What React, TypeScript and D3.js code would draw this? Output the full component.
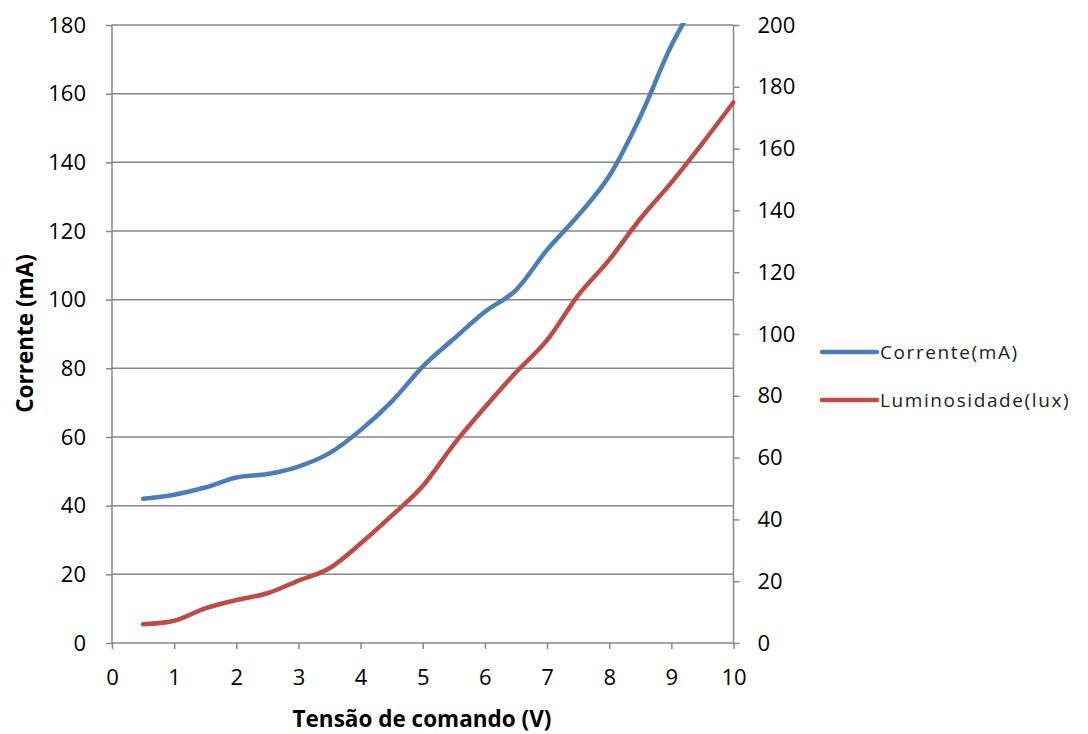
import { useEffect, useRef } from "react";
import * as d3 from "d3";

const voltage = [0.5, 1, 1.5, 2, 2.5, 3, 3.5, 4, 4.5, 5, 5.5, 6, 6.5, 7, 7.5, 8, 8.5, 9, 9.5, 10];
const corrente = [42, 43.2, 45.3, 48.2, 49.2, 51.4, 55.3, 62, 70.3, 80.5, 88.6, 96.5, 102.8, 114.5, 124.5, 136, 153.3, 174, 190, 205];
const luminosidade = [6.1, 7.2, 11.2, 13.9, 16.1, 20.2, 24.2, 32.2, 41.2, 50.8, 64.3, 76.3, 87.6, 98, 112.5, 124, 137.3, 149, 161.7, 175];

const xTicks = [0, 1, 2, 3, 4, 5, 6, 7, 8, 9, 10];
const leftTicks = [0, 20, 40, 60, 80, 100, 120, 140, 160, 180];
const rightTicks = [0, 20, 40, 60, 80, 100, 120, 140, 160, 180, 200];

const seriesNames = ["Corrente(mA)", "Luminosidade(lux)"];
const seriesColors = ["#4A7EBB", "#BE4B48"];

export default function App() {
    const svgRef = useRef<SVGSVGElement>(null);

    useEffect(() => {
        const width = 1088;
        const height = 734;
        const left = 112;
        const right = 733.5;
        const top = 25;
        const bottom = 643;
        const font = "'Open Sans', Lato, sans-serif";
        const grid = "#878787";

        const svg = d3.select(svgRef.current);
        svg.selectAll("*").remove();
        svg.attr("width", width).attr("height", height);

        const x = d3.scaleLinear().domain([0, 10]).range([left, right]);
        const yL = d3.scaleLinear().domain([0, 180]).range([bottom, top]);
        const yR = d3.scaleLinear().domain([0, 200]).range([bottom, top]);

        // Gridlines
        svg.append("g")
            .selectAll("line")
            .data(leftTicks.slice(1))
            .enter()
            .append("line")
            .attr("x1", left)
            .attr("x2", right)
            .attr("y1", d => yL(d))
            .attr("y2", d => yL(d))
            .attr("stroke", grid)
            .attr("stroke-width", 1.5);

        // Left axis
        const gl = svg.append("g")
            .attr("transform", `translate(${left},0)`)
            .call(d3.axisLeft(yL).tickValues(leftTicks).tickSize(6).tickPadding(20));

        // Right axis
        const gr = svg.append("g")
            .attr("transform", `translate(${right},0)`)
            .call(d3.axisRight(yR).tickValues(rightTicks).tickSize(6).tickPadding(18));

        // Bottom axis
        const gb = svg.append("g")
            .attr("transform", `translate(0,${bottom})`)
            .call(d3.axisBottom(x).tickValues(xTicks).tickFormat(d3.format("d")).tickSize(6).tickPadding(20));

        [gl, gr, gb].forEach(g => {
            g.selectAll("text").attr("font-size", "22px").attr("font-family", font).attr("fill", "#000");
            g.select(".domain").attr("stroke", grid).attr("stroke-width", 1.5);
            g.selectAll(".tick line").attr("stroke", grid).attr("stroke-width", 1.5);
        });
        gl.select(".domain").attr("d", `M0,${bottom}V${top}`);
        gr.select(".domain").attr("d", `M0,${bottom}V${top}`);
        gb.select(".domain").attr("d", `M${left},0H${right}`);

        // Clip
        svg.append("clipPath")
            .attr("id", "plot-clip")
            .append("rect")
            .attr("x", left)
            .attr("y", top - 2)
            .attr("width", right - left + 2)
            .attr("height", bottom - top + 4);

        const lineL = d3.line<number>()
            .x((_, i) => x(voltage[i]))
            .y(d => yL(d))
            .curve(d3.curveCatmullRom.alpha(0));
        const lineR = d3.line<number>()
            .x((_, i) => x(voltage[i]))
            .y(d => yR(d))
            .curve(d3.curveCatmullRom.alpha(0));

        const plot = svg.append("g").attr("clip-path", "url(#plot-clip)");
        plot.append("path")
            .attr("d", lineL(corrente))
            .attr("fill", "none")
            .attr("stroke", seriesColors[0])
            .attr("stroke-width", 4.5)
            .attr("stroke-linecap", "round");
        plot.append("path")
            .attr("d", lineR(luminosidade))
            .attr("fill", "none")
            .attr("stroke", seriesColors[1])
            .attr("stroke-width", 4.5)
            .attr("stroke-linecap", "round");

        // Axis titles
        svg.append("text")
            .attr("transform", `translate(33,${(255 + 412) / 2}) rotate(-90)`)
            .attr("text-anchor", "middle")
            .attr("font-family", font)
            .attr("font-weight", "bold")
            .attr("font-size", "22.5px")
            .text("Corrente (mA)");
        svg.append("text")
            .attr("x", 422)
            .attr("y", 727)
            .attr("text-anchor", "middle")
            .attr("font-family", font)
            .attr("font-weight", "bold")
            .attr("font-size", "22.5px")
            .text("Tensão de comando (V)");

        // Legend
        const legend = svg.append("g")
            .selectAll("g")
            .data(seriesNames)
            .enter()
            .append("g")
            .attr("transform", (_, i) => `translate(822,${352 + i * 48})`);
        legend.append("line")
            .attr("x1", 0)
            .attr("x2", 55)
            .attr("stroke", (_, i) => seriesColors[i])
            .attr("stroke-width", 4.5)
            .attr("stroke-linecap", "round");
        legend.append("text")
            .attr("x", 58)
            .attr("y", 7)
            .attr("font-family", font)
            .attr("font-size", "19px")
            .attr("letter-spacing", "1.6px")
            .attr("fill", "#222")
            .text(d => d);
    }, []);

    return <svg ref={svgRef} style={{ position: "absolute", left: 0, top: 0 }}></svg>;
}
